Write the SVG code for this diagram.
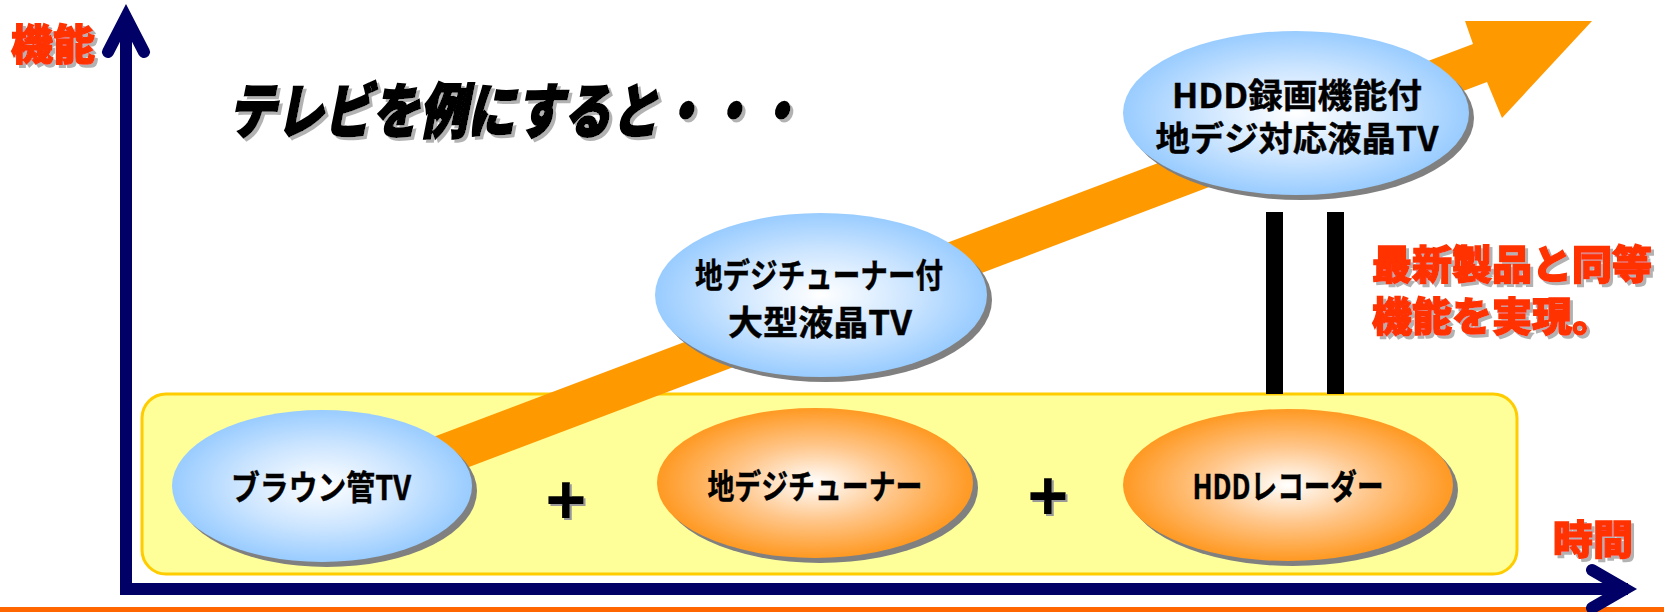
<svg xmlns="http://www.w3.org/2000/svg" width="1664" height="612" viewBox="0 0 1664 612">
<defs>
  <radialGradient id="gBlue" cx="50%" cy="50%" r="50%">
    <stop offset="0" stop-color="#FFFFFF"/>
    <stop offset="0.55" stop-color="#CCE5FF"/>
    <stop offset="1" stop-color="#99CCFF"/>
  </radialGradient>
  <radialGradient id="gOrange" cx="50%" cy="50%" r="50%">
    <stop offset="0" stop-color="#FFFFFF"/>
    <stop offset="0.5" stop-color="#FFC68A"/>
    <stop offset="1" stop-color="#FF9922"/>
  </radialGradient>
  <filter id="sh" x="-10%" y="-20%" width="130%" height="150%">
    <feDropShadow dx="3" dy="3" stdDeviation="0.4" flood-color="#B2B2B2" flood-opacity="1"/>
  </filter>
  <filter id="sh2" x="-10%" y="-20%" width="130%" height="150%">
    <feDropShadow dx="2" dy="2" stdDeviation="0.3" flood-color="#999999" flood-opacity="1"/>
  </filter>
  <style>
    .shadow { fill: #808080; }
    .blue { fill: url(#gBlue); }
    .orange { fill: url(#gOrange); }
    .lbl { font-family: "Noto Sans CJK JP", "Liberation Sans", sans-serif; font-weight: 700; fill: #000000; text-anchor: middle; stroke: #000000; stroke-width: 0.4; }
    .red { font-family: "Noto Sans CJK JP", "Liberation Sans", sans-serif; font-weight: 900; fill: #FF3300; stroke: #FF3300; stroke-width: 1.4; filter: url(#sh); }
    .axis { fill: none; stroke: #000066; stroke-width: 12; }
    .plus { font-family: "Liberation Sans", Arial, sans-serif; font-weight: 700; font-size: 70px; text-anchor: middle; fill: #000000; filter: url(#sh2); }
  </style>
</defs>
<rect width="1664" height="612" fill="#FFFFFF"/>

<!-- bottom orange line -->
<rect x="0" y="607" width="1664" height="5" fill="#FF6600"/>

<!-- yellow box -->
<g id="box">
  <rect x="142" y="394" width="1375" height="180" rx="24" ry="24" fill="#FFFF99" stroke="#FFCC00" stroke-width="3"/>
</g>

<!-- axes, growth arrow, equality bars -->
<g id="connectors">
  <path class="axis" d="M126,22 L126,589 L1628,589" stroke-linejoin="miter"/>
  <path class="axis" d="M108,52 L126,17 L144,52" stroke-width="11" stroke-linecap="round" stroke-linejoin="miter" stroke-miterlimit="10"/>
  <path class="axis" d="M1592,570 L1625,589 L1592,608" stroke-linecap="round" stroke-linejoin="miter" stroke-miterlimit="10"/>
  <polygon id="growth" fill="#FF9900" points="350,468.5 1473,44 1465,21 1592,21 1502,118 1487,82 350,512"/>
  <rect x="1266" y="212" width="17" height="182" fill="#000000"/>
  <rect x="1327" y="212" width="17" height="182" fill="#000000"/>
</g>

<!-- axis labels -->
<g id="label-kino">
  <text class="red" x="11" y="60" font-size="42">機能</text>
</g>
<g id="label-jikan">
  <text class="red" x="1553" y="554" font-size="40">時間</text>
</g>

<!-- title -->
<g id="title">
  <text x="228" y="133" font-family="Noto Sans CJK JP, sans-serif" font-weight="900" font-style="italic" font-size="60" fill="#000000" stroke="#000000" stroke-width="2" filter="url(#sh)" textLength="574" lengthAdjust="spacingAndGlyphs">テレビを例にすると・・・</text>
</g>

<!-- nodes -->
<g id="node-braun">
  <ellipse class="shadow" cx="327" cy="491" rx="150" ry="76"/>
  <ellipse class="blue" cx="322" cy="486" rx="150" ry="76"/>
  <text class="lbl" x="321" y="500" font-size="34" textLength="180" lengthAdjust="spacingAndGlyphs">ブラウン管TV</text>
</g>

<g id="node-tuner">
  <ellipse class="shadow" cx="820" cy="488" rx="158" ry="75"/>
  <ellipse class="orange" cx="815" cy="483" rx="158" ry="75"/>
  <text class="lbl" x="815" y="499" font-size="34" textLength="215" lengthAdjust="spacingAndGlyphs">地デジチューナー</text>
</g>

<g id="node-hdd">
  <ellipse class="shadow" cx="1293" cy="490" rx="165" ry="76"/>
  <ellipse class="orange" cx="1288" cy="485" rx="165" ry="76"/>
  <text class="lbl" x="1288" y="499" font-size="34" textLength="191" lengthAdjust="spacingAndGlyphs">HDDレコーダー</text>
</g>

<g id="node-lcd">
  <ellipse class="shadow" cx="826" cy="300" rx="166" ry="82"/>
  <ellipse class="blue" cx="821" cy="295" rx="166" ry="82"/>
  <text class="lbl" x="819" y="288" font-size="34" textLength="248" lengthAdjust="spacingAndGlyphs">地デジチューナー付</text>
  <text class="lbl" x="820" y="335" font-size="34" textLength="184" lengthAdjust="spacingAndGlyphs">大型液晶TV</text>
</g>

<g id="node-hddlcd">
  <ellipse class="shadow" cx="1301" cy="118" rx="173" ry="82"/>
  <ellipse class="blue" cx="1296" cy="113" rx="173" ry="82"/>
  <text class="lbl" x="1297" y="108" font-size="34" textLength="250" lengthAdjust="spacingAndGlyphs">HDD録画機能付</text>
  <text class="lbl" x="1297" y="151" font-size="34" textLength="283" lengthAdjust="spacingAndGlyphs">地デジ対応液晶TV</text>
</g>

<!-- plus signs -->
<g id="plus1">
  <text class="plus" x="566" y="524">+</text>
</g>
<g id="plus2">
  <text class="plus" x="1048" y="520">+</text>
</g>

<!-- note -->
<g id="note">
  <text class="red" x="1372" y="279" font-size="40">最新製品と同等</text>
  <text class="red" x="1372" y="331" font-size="40">機能を実現。</text>
</g>
</svg>
